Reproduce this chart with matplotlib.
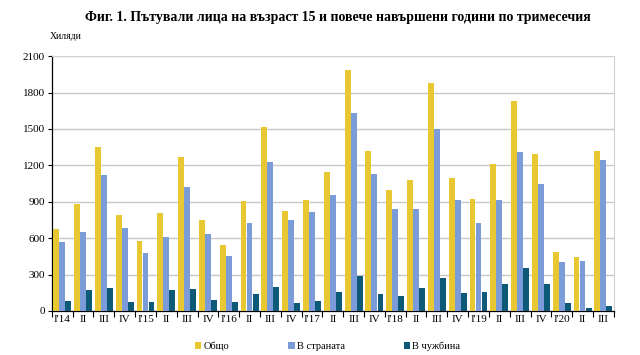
import matplotlib
matplotlib.use("Agg")
import matplotlib.pyplot as plt
import numpy as np

plt.rcParams['font.family'] = ['Liberation Serif', 'DejaVu Serif']

quarters = ["I'14", "II", "III", "IV", "I'15", "II", "III", "IV", "I'16", "II", "III", "IV",
            "I'17", "II", "III", "IV", "I'18", "II", "III", "IV", "I'19", "II", "III", "IV",
            "I'20", "II", "III"]
total = [678, 879, 1349, 788, 577, 808, 1269, 747, 541, 904, 1514, 827,
         917, 1143, 1989, 1321, 1000, 1077, 1876, 1093, 926, 1214, 1731, 1297,
         486, 445, 1321]
domestic = [569, 654, 1118, 681, 475, 610, 1019, 635, 456, 728, 1228, 747,
            816, 959, 1632, 1129, 838, 838, 1497, 917, 722, 917, 1308, 1049,
            401, 412, 1242]
abroad = [80, 176, 187, 74, 74, 176, 181, 88, 71, 137, 198, 66,
          80, 154, 286, 137, 126, 187, 272, 151, 159, 225, 352, 220,
          66, 27, 41]
series_names = ["Общо", "В страната", "В чужбина"]
colors = ["#E8C832", "#7B9CD8", "#0D5A78"]

fig = plt.figure(figsize=(6.4, 3.55), dpi=100)
ax = fig.add_axes([0.081, 0.124, 0.878, 0.718])

x = np.arange(len(quarters))
w = 0.29
for i, (vals, name, c) in enumerate(zip([total, domestic, abroad], series_names, colors)):
    ax.bar(x + (i - 1) * w, vals, width=w * 0.97, color=c, label=name, zorder=3)

ax.set_xlim(-0.5, len(quarters) - 0.5)
ax.set_ylim(0, 2100)
ax.set_yticks(np.arange(0, 2101, 300))
ax.tick_params(axis='y', labelsize=8, length=3, width=0.8, pad=2)
ax.set_xticks(x)
ax.set_xticklabels(quarters, fontsize=8)
ax.tick_params(axis='x', length=0, pad=3)
ax.set_xticks(np.arange(-0.5, len(quarters), 1), minor=True)
ax.tick_params(axis='x', which='minor', length=4, width=0.8, direction='out')

ax.grid(axis='y', color='#C8C8C8', linewidth=1.0, zorder=0)
for side in ['top', 'right']:
    ax.spines[side].set_color('#D0D0D0')
ax.spines['left'].set_color('black')
ax.spines['bottom'].set_color('black')
ax.spines['left'].set_linewidth(0.9)
ax.spines['bottom'].set_linewidth(0.9)

fig.text(0.528, 0.952, "Фиг. 1. Пътували лица на възраст 15 и повече навършени години по тримесечия",
         ha='center', va='center', fontsize=10, fontweight='bold')
fig.text(0.078, 0.896, "Хиляди", ha='left', va='center', fontsize=7)

leg = fig.legend(loc='center', bbox_to_anchor=(0.512, 0.025), ncol=3, frameon=False,
                 fontsize=7.5, handlelength=0.6, handleheight=0.6, handletextpad=0.2,
                 columnspacing=5.7)

fig.savefig("out.png", dpi=100)
